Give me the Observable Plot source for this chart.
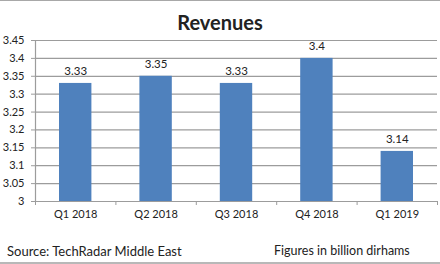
<!DOCTYPE html>
<html>
<head>
<meta charset="utf-8">
<script src="https://cdn.jsdelivr.net/npm/d3@7"></script>
<script src="https://cdn.jsdelivr.net/npm/@observablehq/plot@0.6"></script>
<style>
  html, body { margin: 0; padding: 0; background: #fff; }
  #page {
    width: 440px; height: 264px; box-sizing: border-box;
    border-top: 1px solid #a8a8a8; border-bottom: 2px solid #b8b8b8;
    font-family: Lato, "Open Sans", sans-serif; color: #222;
    position: relative; overflow: hidden;
  }
  #title {
    height: 31px; text-align: center; font-weight: bold; font-size: 20px;
    line-height: 20px; padding-top: 11px; box-sizing: border-box;
  }
  #footer {
    position: absolute; left: 0; right: 0; top: 242px; font-size: 12.5px;
  }
  #source { position: absolute; left: 7px; font-size: 13px; }
  #units { position: absolute; left: 274px; }
  svg { display: block; }
</style>
</head>
<body>
<div id="page">
  <div id="title">Revenues</div>
  <div id="chart"></div>
  <div id="footer">
    <span id="source">Source: TechRadar Middle East</span>
    <span id="units">Figures in billion dirhams</span>
  </div>
</div>
<script>
const quarters = ["Q1 2018", "Q2 2018", "Q3 2018", "Q4 2018", "Q1 2019"];
const revenues = [3.33, 3.35, 3.33, 3.4, 3.14];
const yTicks = [3, 3.05, 3.1, 3.15, 3.2, 3.25, 3.3, 3.35, 3.4, 3.45];

// Each quarter occupies one unit on a linear x scale, so band edges can carry tick marks.
const rows = quarters.map((q, i) => ({i, q, v: revenues[i]}));
const edges = d3.range(quarters.length + 1);
const centers = rows.map(d => d.i + 0.5);
const gridColor = "#9c9c9c";

const chart = Plot.plot({
  width: 440,
  height: 198,
  marginTop: 8,
  marginBottom: 29,
  marginLeft: 35,
  marginRight: 3,
  style: {fontFamily: "Lato, 'Open Sans', sans-serif", fontSize: "11px", color: "#222"},
  x: {type: "linear", domain: [0, quarters.length], axis: null},
  y: {domain: [3, 3.45], axis: null},
  marks: [
    Plot.gridY(yTicks, {stroke: gridColor, strokeOpacity: 1, strokeWidth: 1.2}),
    Plot.rectY(rows, {
      x1: "i", x2: d => d.i + 1, y1: 3, y2: "v",
      fill: "#4f81bd", insetLeft: 24, insetRight: 24
    }),
    Plot.ruleY([3], {stroke: gridColor, strokeWidth: 1.2}),
    Plot.ruleX([0], {stroke: gridColor, strokeWidth: 1.2}),
    Plot.axisY(yTicks, {
      label: null, tickSize: 4, tickPadding: 7, stroke: gridColor,
      tickFormat: d => String(d), fill: "#222"
    }),
    Plot.axisX(edges, {label: null, tickSize: 4, stroke: gridColor, tickFormat: () => ""}),
    Plot.axisX(centers, {
      label: null, tickSize: 0, tickPadding: 9, fill: "#222",
      tickFormat: d => quarters[d - 0.5]
    }),
    Plot.text(rows, {
      x: d => d.i + 0.5, y: "v", text: d => String(d.v),
      dy: -12, fill: "#222", fontSize: 11.5
    })
  ]
});
document.getElementById("chart").appendChild(chart);
</script>
</body>
</html>
